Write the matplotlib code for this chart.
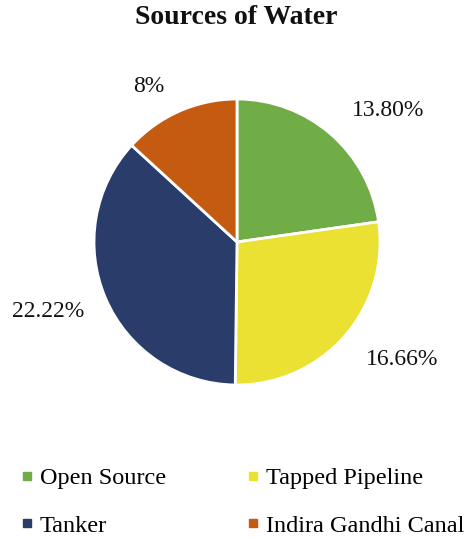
import matplotlib
matplotlib.use("Agg")
import matplotlib.pyplot as plt
from matplotlib.lines import Line2D

plt.rcParams['font.family'] = ['Liberation Serif', 'DejaVu Serif']

# Data
categories = ["Open Source", "Tapped Pipeline", "Tanker", "Indira Gandhi Canal"]
values = [13.80, 16.66, 22.22, 8]
value_labels = ["13.80%", "16.66%", "22.22%", "8%"]
colors = ["#70AD47", "#EAE133", "#2A3C6A", "#C55A11"]

# Where each value label sits, in pie data units (radius = 1)
label_positions = [(1.056, 0.923), (1.154, -0.825), (-1.322, -0.483), (-0.615, 1.084)]

W, H = 473, 540
fig = plt.figure(figsize=(W / 100, H / 100), dpi=100)

cx, cy, r = 237, 242, 143
ax = fig.add_axes([(cx - r) / W, (H - cy - r) / H, 2 * r / W, 2 * r / H])
wedges, _ = ax.pie(values, colors=colors, startangle=90, counterclock=False,
                   radius=1.0, wedgeprops=dict(edgecolor="white", linewidth=2))
ax.set_xlim(-1, 1)
ax.set_ylim(-1, 1)
ax.set_aspect("equal")
ax.axis("off")

for txt, (lx, ly) in zip(value_labels, label_positions):
    ax.text(lx, ly, txt, ha="center", va="center", fontsize=17,
            color="#111111", clip_on=False)

fig.text(0.5, 1 - 17 / H, "Sources of Water", ha="center", va="center",
         fontsize=20, fontweight="bold", color="#111111")

handles = [Line2D([], [], marker="s", linestyle="none", markersize=6,
                  markerfacecolor=c, markeredgecolor=c) for c in colors]
# legend fills column by column; reorder so entries read across rows
order = [0, 2, 1, 3]
fig.legend([handles[i] for i in order], [categories[i] for i in order],
           ncol=2, loc="upper left",
           bbox_to_anchor=(14 / W, 1 - 460 / H), frameon=False, fontsize=17.5,
           handlelength=0.5, handletextpad=0.25, columnspacing=3.36,
           labelspacing=1.05, borderaxespad=0.0, borderpad=0.3)

fig.savefig("out.png", dpi=100, facecolor="white")
